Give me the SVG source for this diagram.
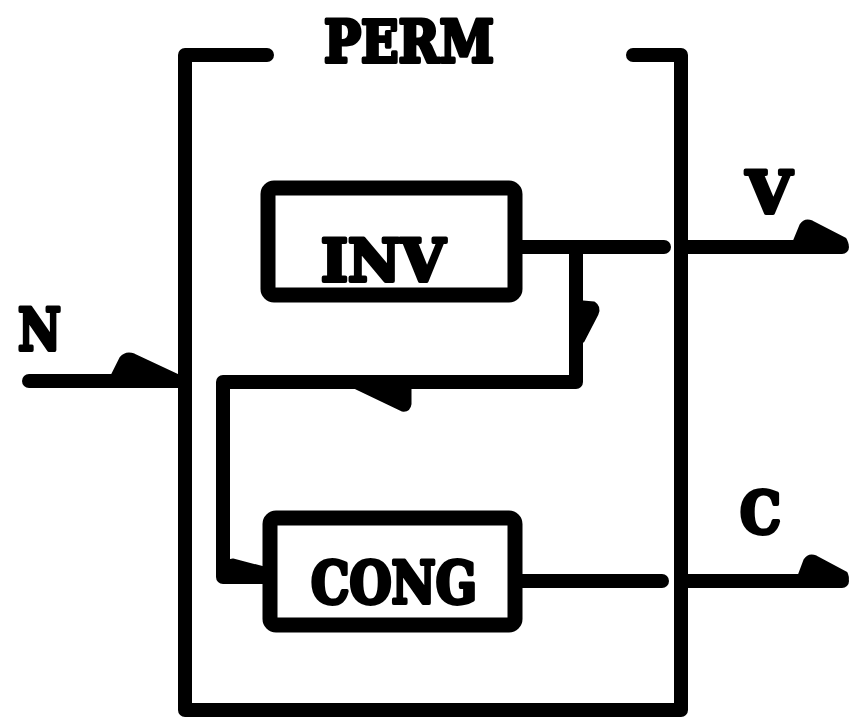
<svg xmlns="http://www.w3.org/2000/svg" width="850" height="725" viewBox="0 0 850 725">
<style>
.ln{fill:none;stroke:#000;stroke-width:14;stroke-linecap:round;stroke-linejoin:round}
.bx{fill:#fff;stroke:#000;stroke-width:15;stroke-linejoin:round}
.hd{fill:#000;stroke:#000;stroke-width:3;stroke-linejoin:round}
.tx{font-family:"DejaVu Serif","Liberation Serif",serif;font-weight:bold;font-size:58px;fill:#000;stroke:#000;stroke-width:4;stroke-linejoin:round}
</style>
<rect width="850" height="725" fill="#fff"/>
<g id="perm">
<path class="ln" d="M267 55 L185 55 L185 710 L681 710 L681 55 L633 55"/>
<text class="tx" x="324" y="62" textLength="170" lengthAdjust="spacingAndGlyphs">PERM</text>
</g>
<g id="connectors">
<path class="ln" d="M29 381 L185 381"/>
<path class="hd" d="M112 376 L121 358 Q126 352 134 355 L181 377 Z"/>
<path class="ln" d="M515 247 L664 247"/>
<path class="ln" d="M681 247 L842 247"/>
<path class="hd" d="M794 242 L801 225 Q805 219 812 222 L845 239 Q850 247 842 251 Z"/>
<path class="ln" d="M515 581 L662 581"/>
<path class="ln" d="M681 581 L842 581"/>
<path class="hd" d="M799 576 L805 560 Q809 554 816 557 L846 573 Q850 581 842 585 Z"/>
<path class="ln" d="M576 247 L576 382 L223 382 L223 577 L266 577"/>
<path class="hd" d="M583 302 L594 303 Q600 307 597 314 L583 341 Z"/>
<path class="hd" d="M356 388 L402 410 Q409 411 410 404 L410 388 Z"/>
<path class="hd" d="M223 562 L233 560 L264 568 L264 578 L223 578 Z"/>
<text class="tx" x="18" y="350" textLength="43" lengthAdjust="spacingAndGlyphs">N</text>
<text class="tx" x="746" y="213" textLength="46" lengthAdjust="spacingAndGlyphs">V</text>
<text class="tx" x="740" y="533" textLength="41" lengthAdjust="spacingAndGlyphs">C</text>
</g>
<g id="inv">
<rect class="bx" x="268" y="188" width="247" height="107" rx="6"/>
<text class="tx" x="321" y="281" textLength="124" lengthAdjust="spacingAndGlyphs">INV</text>
</g>
<g id="cong">
<rect class="bx" x="270" y="518" width="245" height="107" rx="6"/>
<text class="tx" x="311" y="603" textLength="166" lengthAdjust="spacingAndGlyphs">CONG</text>
</g>
</svg>
